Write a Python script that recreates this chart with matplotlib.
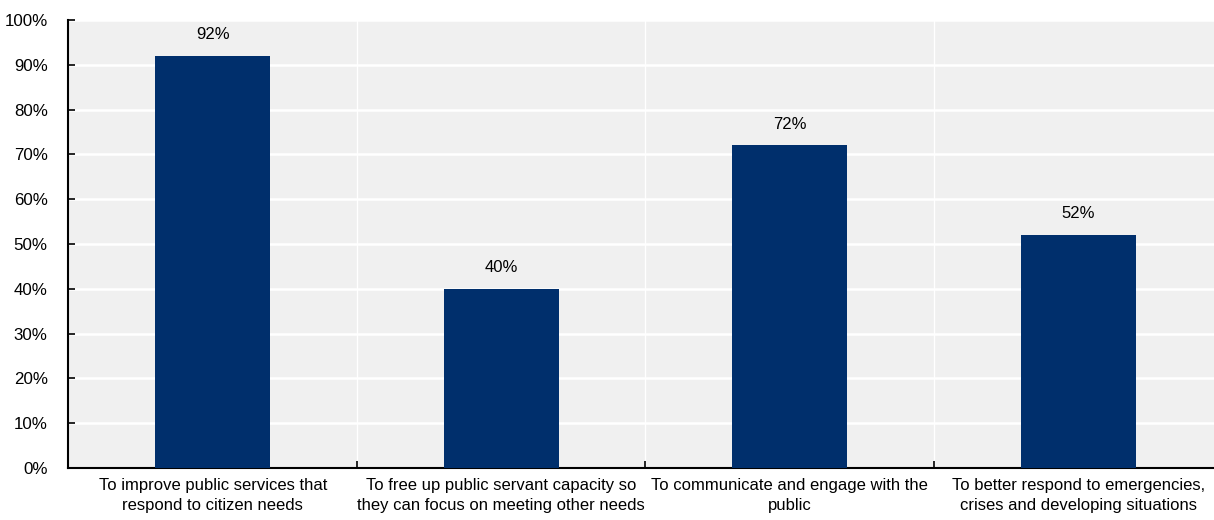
import matplotlib
matplotlib.use("Agg")
import matplotlib.pyplot as plt
from matplotlib.ticker import FixedLocator, PercentFormatter

plt.rcParams['font.family'] = ['Liberation Sans', 'DejaVu Sans']

categories = [
    "To improve public services that\nrespond to citizen needs",
    "To free up public servant capacity so\nthey can focus on meeting other needs",
    "To communicate and engage with the\npublic",
    "To better respond to emergencies,\ncrises and developing situations",
]
shares = [92, 40, 72, 52]

navy = "#002F6C"
panel = "#F0F0F0"

fig = plt.figure(figsize=(12.14, 5.2), dpi=100)
# the panel runs a little past the right edge of the figure
ax = fig.add_axes([0.0564, 0.1, 0.9506, 0.8615])
ax.set_facecolor(panel)

x = list(range(len(categories)))
bars = ax.bar(x, shares, width=0.4, color=navy, zorder=3)

for b, v in zip(bars, shares):
    ax.annotate(f"{v}%", (b.get_x() + b.get_width() / 2, v),
                xytext=(0, 10), textcoords="offset points",
                ha="center", va="bottom", fontsize=12, color="black")

ax.set_xlim(-0.5, len(categories) - 0.5)
ax.set_ylim(0, 100)
ax.set_yticks(range(0, 101, 10))
ax.yaxis.set_major_formatter(PercentFormatter(decimals=0))
ax.set_xticks(x)
ax.set_xticklabels(categories, fontsize=12, linespacing=1.45)
ax.xaxis.set_minor_locator(FixedLocator([i + 0.5 for i in x[:-1]]))

ax.grid(axis="y", color="white", linewidth=1.8, zorder=0)
ax.grid(axis="x", which="minor", color="white", linewidth=1.0, zorder=0)
ax.tick_params(axis="y", direction="in", length=5, width=1.2, labelsize=12.2, pad=15)
ax.tick_params(axis="x", which="major", length=0, pad=7)
ax.tick_params(axis="x", which="minor", direction="in", length=5, width=1.2)

for side in ("top", "right"):
    ax.spines[side].set_visible(False)
for side in ("left", "bottom"):
    ax.spines[side].set_linewidth(1.5)

fig.savefig("out.png", dpi=100)
